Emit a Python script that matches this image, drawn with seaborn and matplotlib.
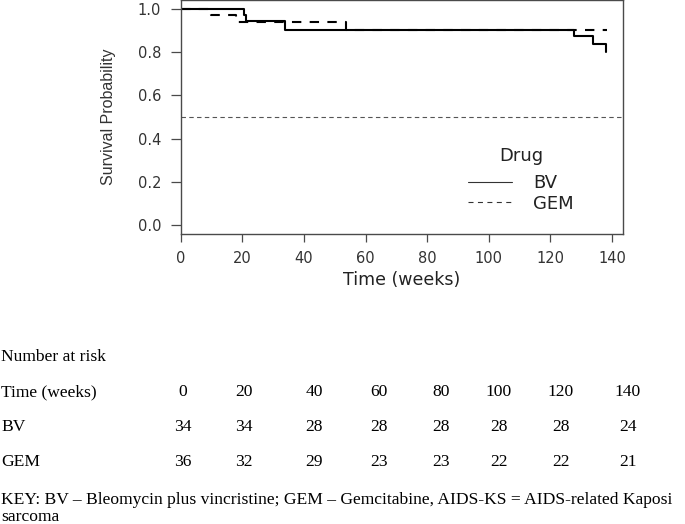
import pandas as pd
import numpy as np
import matplotlib
matplotlib.use("Agg")
import matplotlib.pyplot as plt
import seaborn as sns

# Kaplan-Meier step estimates
bv_time = [0, 20.5, 21.2, 33.9, 127.7, 133.7, 138.0]
bv_surv = [1.0, 0.971, 0.941, 0.903, 0.872, 0.838, 0.800]
gem_time = [0, 9.7, 17.8, 53.6, 138.3]
gem_surv = [1.0, 0.972, 0.940, 0.900, 0.900]

# number at risk table
risk_times = [0, 20, 40, 60, 80, 100, 120, 140]
bv_risk = [34, 34, 28, 28, 28, 28, 28, 24]
gem_risk = [36, 32, 29, 23, 23, 22, 22, 21]

key_text = ("KEY: BV \u2013 Bleomycin plus vincristine; GEM \u2013 Gemcitabine, "
            "AIDS-KS = AIDS-related Kaposi")

df = pd.concat([
    pd.DataFrame({"time": bv_time, "surv": bv_surv, "Drug": "BV"}),
    pd.DataFrame({"time": gem_time, "surv": gem_surv, "Drug": "GEM"}),
], ignore_index=True)

sns.set_theme(style="ticks")
plt.rcParams["font.family"] = ["DejaVu Sans"]

W, H = 685, 524
fig = plt.figure(figsize=(W / 100, H / 100), dpi=100)
ax = fig.add_axes([180.7 / W, 1 - 234 / H, (623 - 180.7) / W, 234 / H])

grey = "#4a4a4a"
sns.lineplot(data=df, x="time", y="surv", style="Drug", drawstyle="steps-post",
             estimator=None, color="black", linewidth=1.5,
             dashes={"BV": "", "GEM": (4.5, 4)}, ax=ax)
ax.axhline(0.5, color="#555555", linewidth=0.8, linestyle=(0, (4, 3)))

ax.set_xlim(0, 143.6)
ax.set_ylim(-0.04, 1.04)
ax.set_xticks(risk_times)
ax.set_yticks([0.0, 0.2, 0.4, 0.6, 0.8, 1.0])
ax.set_yticklabels(["0.0", "0.2", "0.4", "0.6", "0.8", "1.0"])
ax.tick_params(axis="both", colors=grey, labelcolor="#333333", labelsize=10.5,
               length=7, width=0.9)
ax.tick_params(axis="y", pad=7)
ax.tick_params(axis="x", length=6, pad=6)
for s in ax.spines.values():
    s.set_visible(True)
    s.set_color(grey)
    s.set_linewidth(1.0)
ax.set_xlabel("Time (weeks)", fontsize=12.5, color="#222222", labelpad=4)
ax.set_ylabel("Survival Probability", fontsize=11.5, color="#333333",
              family=["Liberation Sans", "DejaVu Sans"], labelpad=16)

leg = ax.legend(title="Drug", loc="upper left", bbox_to_anchor=(0.63, 0.4085),
                frameon=False, fontsize=13, title_fontsize=13, handlelength=2.4,
                handletextpad=1.2, borderpad=0, labelspacing=0.12)
leg._legend_box.sep = 6.5
for line in leg.get_lines():
    line.set_linewidth(0.8)
    line.set_color("#333333")
for t in leg.get_texts():
    t.set_color("#222222")
leg.get_title().set_color("#222222")

# risk table underneath, in a serif face
serif = ["Liberation Serif", "DejaVu Serif"]
col_x = [183, 244, 314, 379, 441, 499, 561, 628]
row_y = {"head": 357, "time": 392, "bv": 427, "gem": 462}
fs = 12.6


def put(x, y, s, ha="left"):
    fig.text(x / W, 1 - y / H, s, ha=ha, va="center", fontsize=fs,
             family=serif, color="black")


put(1, row_y["head"], "Number at risk")
put(1, row_y["time"], "Time (weeks)")
put(1, row_y["bv"], "BV")
put(1, row_y["gem"], "GEM")
for i, x in enumerate(col_x):
    put(x, row_y["time"], str(risk_times[i]), ha="center")
    put(x, row_y["bv"], str(bv_risk[i]), ha="center")
    put(x, row_y["gem"], str(gem_risk[i]), ha="center")
put(1, 500, key_text)
put(1, 517, "sarcoma")

fig.savefig("out.png", dpi=100)
